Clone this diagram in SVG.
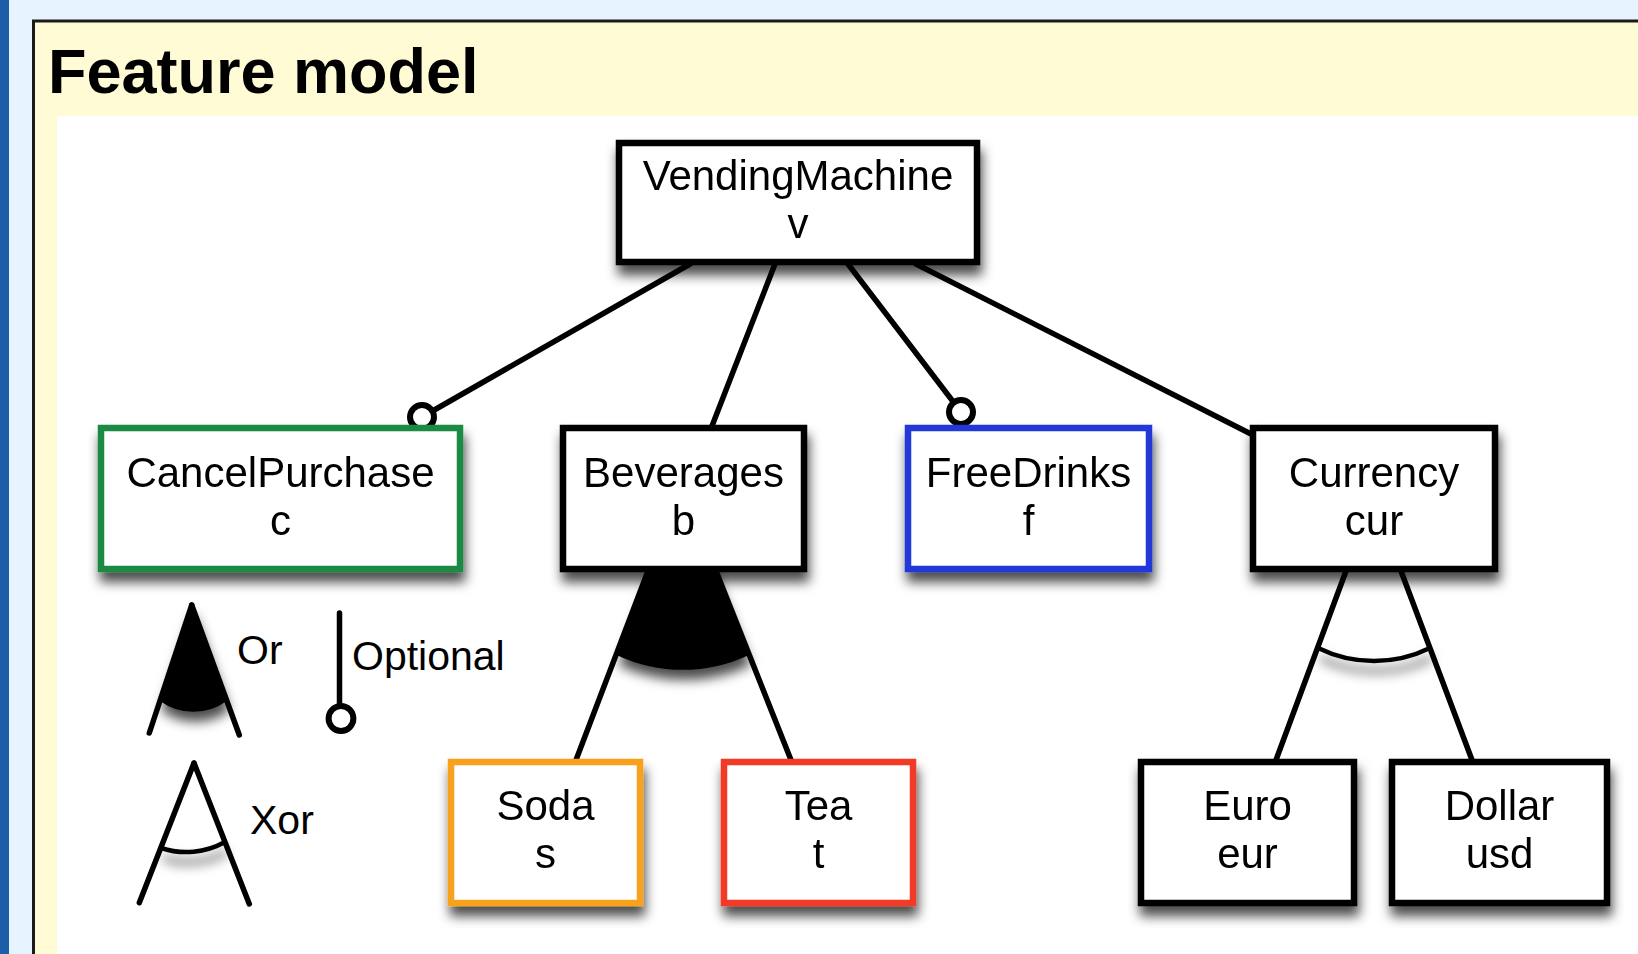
<svg xmlns="http://www.w3.org/2000/svg" width="1638" height="954" viewBox="0 0 1638 954">
<style>
.lbl{font-family:"Liberation Sans",Arial,Helvetica,sans-serif;font-size:42px;fill:#000;text-anchor:middle}
.leg{font-family:"Liberation Sans",Arial,Helvetica,sans-serif;font-size:41px;fill:#000}
.box{fill:#fff;stroke-width:6.5}
.edge{stroke:#000;stroke-width:5.5;fill:none;stroke-linecap:round}
.opt{fill:#fff;stroke:#000;stroke-width:6}
</style>
<defs>
<filter id="sh" filterUnits="userSpaceOnUse" x="0" y="0" width="1638" height="954">
<feDropShadow dx="2" dy="10" stdDeviation="6" flood-color="#000" flood-opacity="0.7"/>
</filter>
</defs>
<rect x="0" y="0" width="1638" height="954" fill="#e7f4ff"/>
<rect x="0" y="0" width="9" height="954" fill="#1c5ea8"/>
<rect x="33.5" y="21" width="1620" height="950" fill="#fffbd5" stroke="#1a1a1a" stroke-width="3"/>
<rect x="57" y="116" width="1590" height="850" fill="#fff"/>
<text x="48" y="93" font-family="Liberation Sans, Arial, sans-serif" font-weight="bold" font-size="63">Feature model</text>

<g id="connectors">
<path d="M681.6 485 L616.5 655 A155 155 0 0 0 749 655 Z" fill="#000" filter="url(#sh)"/>
<path d="M1318 648 A127 127 0 0 0 1430 648" fill="none" stroke="#000" stroke-width="4.5" filter="url(#sh)"/>
<line class="edge" x1="690" y1="264" x2="422" y2="417"/>
<line class="edge" x1="775" y1="264" x2="712" y2="426"/>
<line class="edge" x1="848" y1="264" x2="961" y2="412"/>
<line class="edge" x1="916" y1="264" x2="1251" y2="434"/>
<line class="edge" x1="648" y1="571" x2="576" y2="760"/>
<line class="edge" x1="716" y1="571" x2="791" y2="760"/>
<line class="edge" x1="1346" y1="571" x2="1276" y2="760"/>
<line class="edge" x1="1401" y1="571" x2="1472" y2="760"/>
<circle class="opt" cx="422" cy="417" r="12"/>
<circle class="opt" cx="961" cy="412" r="12"/>
</g>

<g id="node-vendingmachine" filter="url(#sh)">
<rect class="box" x="619" y="143" width="358" height="119" stroke="#000"/>
<text class="lbl" x="798" y="190">VendingMachine</text>
<text class="lbl" x="798" y="238">v</text>
</g>
<g id="node-cancelpurchase" filter="url(#sh)">
<rect class="box" x="101" y="428" width="359" height="141" stroke="#1b8a45"/>
<text class="lbl" x="280.5" y="487">CancelPurchase</text>
<text class="lbl" x="280.5" y="535">c</text>
</g>
<g id="node-beverages" filter="url(#sh)">
<rect class="box" x="563" y="428" width="241" height="141" stroke="#000"/>
<text class="lbl" x="683.5" y="487">Beverages</text>
<text class="lbl" x="683.5" y="535">b</text>
</g>
<g id="node-freedrinks" filter="url(#sh)">
<rect class="box" x="908" y="428" width="241" height="141" stroke="#2238d8"/>
<text class="lbl" x="1028.5" y="487">FreeDrinks</text>
<text class="lbl" x="1028.5" y="535">f</text>
</g>
<g id="node-currency" filter="url(#sh)">
<rect class="box" x="1253" y="428" width="242" height="141" stroke="#000"/>
<text class="lbl" x="1374" y="487">Currency</text>
<text class="lbl" x="1374" y="535">cur</text>
</g>
<g id="node-soda" filter="url(#sh)">
<rect class="box" x="451" y="762" width="189" height="141" stroke="#f7a11e"/>
<text class="lbl" x="545.5" y="820">Soda</text>
<text class="lbl" x="545.5" y="868">s</text>
</g>
<g id="node-tea" filter="url(#sh)">
<rect class="box" x="724" y="762" width="189" height="141" stroke="#f23a27"/>
<text class="lbl" x="818.5" y="820">Tea</text>
<text class="lbl" x="818.5" y="868">t</text>
</g>
<g id="node-euro" filter="url(#sh)">
<rect class="box" x="1141" y="762" width="213" height="141" stroke="#000"/>
<text class="lbl" x="1247.5" y="820">Euro</text>
<text class="lbl" x="1247.5" y="868">eur</text>
</g>
<g id="node-dollar" filter="url(#sh)">
<rect class="box" x="1392" y="762" width="215" height="141" stroke="#000"/>
<text class="lbl" x="1499.5" y="820">Dollar</text>
<text class="lbl" x="1499.5" y="868">usd</text>
</g>

<g id="legend">
<path d="M191.7 605 L160.2 700 A56 56 0 0 0 226.5 700 Z" fill="#000" stroke="#000" stroke-width="2" stroke-linejoin="round" filter="url(#sh)"/>
<line class="edge" x1="191.7" y1="605" x2="149.3" y2="733"/>
<line class="edge" x1="191.7" y1="605" x2="239.3" y2="735"/>
<text class="leg" x="237" y="664">Or</text>
<line class="edge" x1="339.5" y1="613" x2="339.5" y2="706"/>
<circle class="opt" cx="341" cy="718.5" r="12.4"/>
<text class="leg" x="352" y="670">Optional</text>
<path d="M161 848 A80 80 0 0 0 225 842" fill="none" stroke="#000" stroke-width="4.5" filter="url(#sh)"/>
<line class="edge" x1="194" y1="763" x2="139.3" y2="902.7"/>
<line class="edge" x1="194" y1="763" x2="249.3" y2="904"/>
<text class="leg" x="250" y="834">Xor</text>
</g>
</svg>
